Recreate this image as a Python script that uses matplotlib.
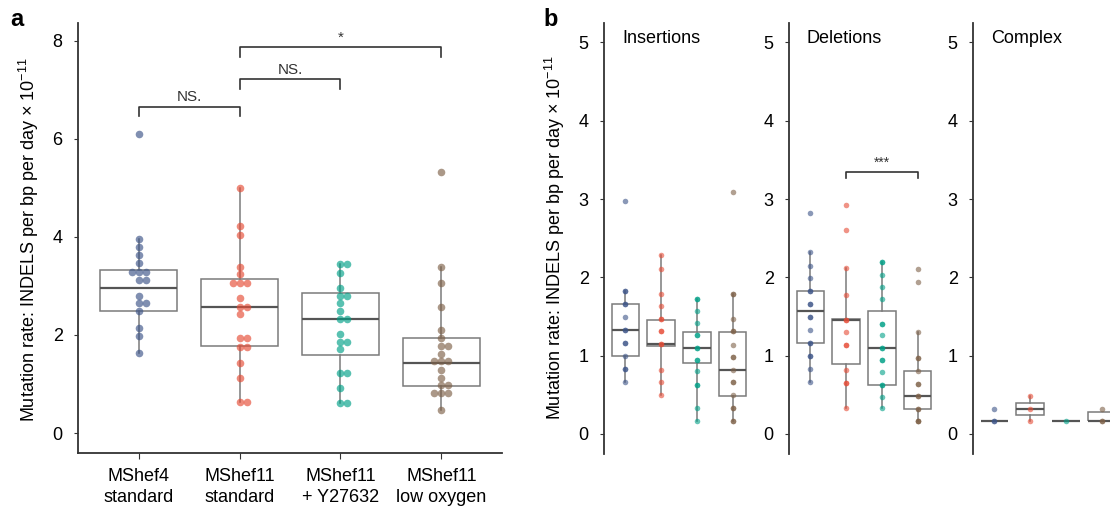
import matplotlib
matplotlib.use("Agg")
import matplotlib.pyplot as plt
import numpy as np

plt.rcParams['font.family'] = ['Liberation Sans', 'DejaVu Sans']

# ---- panel a data (mutation rate, INDELS per bp per day x 1e-11) ----
groups_a = ["MShef4\nstandard", "MShef11\nstandard", "MShef11\n+ Y27632", "MShef11\nlow oxygen"]
mshef4_std = [6.10, 3.95, 3.79, 3.63, 3.46, 3.29, 3.29, 3.29, 3.12, 3.12, 2.80, 2.65, 2.65, 2.48, 2.14, 1.97, 1.64]
mshef11_std = [5.01, 4.22, 4.04, 3.39, 3.24, 3.07, 3.07, 3.07, 2.75, 2.58, 2.58, 2.42, 1.93, 1.93, 1.76, 1.76, 1.43, 1.12, 0.63, 0.63]
mshef11_y27 = [3.44, 3.44, 3.27, 2.95, 2.80, 2.80, 2.65, 2.50, 2.33, 2.33, 2.02, 1.86, 1.86, 1.71, 1.23, 1.23, 0.91, 0.61, 0.61]
mshef11_low = [5.33, 3.39, 3.07, 2.58, 2.10, 1.93, 1.78, 1.78, 1.61, 1.46, 1.46, 1.46, 1.29, 1.12, 0.97, 0.97, 0.81, 0.81, 0.81, 0.46]

# box stats: q1, median, q3, whisker low, whisker high
box_a_q1 = [2.48, 1.78, 1.59, 0.96]
box_a_med = [2.95, 2.58, 2.33, 1.43]
box_a_q3 = [3.33, 3.14, 2.85, 1.93]
box_a_lo = [1.64, 0.63, 0.61, 0.46]
box_a_hi = [3.95, 5.01, 3.44, 3.39]

# significance brackets (group i, group j, height, label)
sig_a = [(0, 1, 6.66, "NS."), (1, 2, 7.22, "NS."), (1, 3, 7.88, "*")]

# ---- panel b data ----
panel_titles = ["Insertions", "Deletions", "Complex"]
ins_blue = [2.98, 1.82, 1.82, 1.66, 1.66, 1.49, 1.33, 1.33, 1.16, 1.16, 1.00, 0.83, 0.83, 0.67]
ins_red = [2.28, 2.11, 1.79, 1.63, 1.47, 1.47, 1.31, 1.31, 1.15, 1.15, 0.82, 0.66, 0.50]
ins_teal = [1.72, 1.72, 1.57, 1.42, 1.26, 1.26, 1.10, 1.10, 0.95, 0.95, 0.80, 0.63, 0.63, 0.33, 0.17]
ins_brown = [3.09, 1.79, 1.79, 1.47, 1.31, 1.31, 1.14, 0.98, 0.98, 0.82, 0.66, 0.66, 0.50, 0.33, 0.33, 0.17, 0.17]
del_blue = [2.82, 2.32, 2.15, 1.99, 1.82, 1.82, 1.66, 1.66, 1.50, 1.50, 1.33, 1.16, 1.16, 1.00, 1.00, 0.83, 0.67]
del_red = [2.92, 2.60, 2.12, 1.78, 1.46, 1.46, 1.30, 1.14, 1.14, 0.82, 0.65, 0.65, 0.33]
del_teal = [2.20, 2.20, 2.03, 1.88, 1.72, 1.41, 1.41, 1.26, 1.10, 1.10, 0.94, 0.94, 0.79, 0.63, 0.63, 0.47, 0.33]
del_brown = [2.11, 1.94, 1.30, 0.97, 0.97, 0.81, 0.64, 0.64, 0.48, 0.48, 0.32, 0.32, 0.16, 0.16, 0.16]
cx_blue = [0.32, 0.16, 0.16]
cx_red = [0.49, 0.32, 0.16]
cx_teal = [0.16]
cx_brown = [0.32, 0.16, 0.16]

ins_q1 = [1.00, 1.13, 0.91, 0.49]
ins_med = [1.33, 1.15, 1.10, 0.82]
ins_q3 = [1.66, 1.46, 1.30, 1.30]
ins_lo = [0.67, 0.50, 0.17, 0.17]
ins_hi = [1.82, 2.28, 1.72, 1.79]
del_q1 = [1.16, 0.90, 0.63, 0.32]
del_med = [1.57, 1.46, 1.10, 0.49]
del_q3 = [1.82, 1.47, 1.57, 0.81]
del_lo = [0.67, 0.33, 0.33, 0.16]
del_hi = [2.32, 2.12, 2.20, 1.30]
cx_q1 = [0.16, 0.24, 0.16, 0.16]
cx_med = [0.16, 0.32, 0.16, 0.16]
cx_q3 = [0.16, 0.40, 0.16, 0.28]
cx_lo = [0.16, 0.16, 0.16, 0.16]
cx_hi = [0.16, 0.49, 0.16, 0.28]

sig_b = (1, 3, 3.35, "***")

colors = ["#3C5488", "#E64B35", "#00A087", "#7E6148"]
axis_col = "#333333"
box_col = "#7a7a7a"
med_col = "#555555"
ylab = "Mutation rate: INDELS per bp per day \u00d7 10$^{\\mathregular{-11}}$"

W, H = 1110, 508
fig = plt.figure(figsize=(W / 100, H / 100), dpi=100)


def px_axes(left, right, top, bottom):
    return fig.add_axes([left / W, 1 - bottom / H, (right - left) / W, (bottom - top) / H])


def draw_boxes(ax, q1, med, q3, lo, hi, width):
    stats = []
    for i in range(len(q1)):
        stats.append(dict(q1=q1[i], med=med[i], q3=q3[i], whislo=lo[i], whishi=hi[i], fliers=[]))
    ax.bxp(stats, positions=range(len(q1)), widths=width, showcaps=False, showfliers=False,
           patch_artist=True,
           boxprops=dict(facecolor="none", edgecolor=box_col, linewidth=1.1),
           whiskerprops=dict(color=box_col, linewidth=1.1),
           medianprops=dict(color=med_col, linewidth=1.6), zorder=1)


def swarm(ax, x0, vals, diam):
    # simple beeswarm in pixel space
    p0 = ax.transData.transform((0, 0))
    p1 = ax.transData.transform((1, 1))
    sx, sy = p1[0] - p0[0], p1[1] - p0[1]
    placed = []
    xs = []
    for v in vals:
        y = v * sy
        k = 0
        while True:
            step = 0.5 * ((k + 1) // 2) * (1 if k % 2 else -1)
            x = step
            if all((x - px) ** 2 + (y - py) ** 2 >= diam ** 2 for px, py in placed):
                break
            k += 1
        placed.append((x, y))
        xs.append(x0 + x / sx)
    return xs


def bracket(ax, i, j, h, drop, label, fs, gap):
    ax.plot([i, i, j, j], [h - drop, h, h, h - drop], color=axis_col, lw=1.2, zorder=3)
    ax.text((i + j) / 2, h + gap, label, ha="center", va="bottom", fontsize=fs, color=axis_col)


# ---------------- panel a ----------------
ax = px_axes(78, 502, 23, 453)
ax.set_xlim(-0.6, 3.6)
ax.set_ylim(-20 / 49, 410 / 49)
draw_boxes(ax, box_a_q1, box_a_med, box_a_q3, box_a_lo, box_a_hi, 0.76)
for i, vals in enumerate([mshef4_std, mshef11_std, mshef11_y27, mshef11_low]):
    xs = swarm(ax, i, vals, 7.0)
    ax.scatter(xs, vals, s=30, color=colors[i], alpha=0.65, linewidths=0, zorder=2)
for i, j, h, lab in sig_a:
    bracket(ax, i, j, h, 0.2, lab, 11, 0.05)
ax.set_xticks(range(4))
ax.set_xticklabels(groups_a, fontsize=13, linespacing=1.25)
ax.set_yticks([0, 2, 4, 6, 8])
ax.tick_params(axis="y", labelsize=13, length=3, pad=8, color=axis_col)
ax.tick_params(axis="x", length=4, pad=7, color=axis_col)
for s in ["top", "right"]:
    ax.spines[s].set_visible(False)
for s in ["left", "bottom"]:
    ax.spines[s].set_color(axis_col)
    ax.spines[s].set_linewidth(1.3)
fig.text(29 / W, 1 - 240 / H, ylab, rotation=90, ha="center", va="center", fontsize=13)
fig.text(10 / W, 1 - 20 / H, "a", fontsize=17, fontweight="bold", ha="left", va="center")

# ---------------- panel b ----------------
b_sets = [
    ([ins_blue, ins_red, ins_teal, ins_brown], (ins_q1, ins_med, ins_q3, ins_lo, ins_hi)),
    ([del_blue, del_red, del_teal, del_brown], (del_q1, del_med, del_q3, del_lo, del_hi)),
    ([cx_blue, cx_red, cx_teal, cx_brown], (cx_q1, cx_med, cx_q3, cx_lo, cx_hi)),
]
lefts = [604, 789, 973]
for k, (series, st) in enumerate(b_sets):
    bx = px_axes(lefts[k], lefts[k] + 150, 23, 454)
    bx.set_xlim(-0.6, 3.6)
    bx.set_ylim(-20 / 78.3, 411 / 78.3)
    draw_boxes(bx, *st, 0.77)
    for i, vals in enumerate(series):
        bx.scatter([i] * len(vals), vals, s=16, color=colors[i], alpha=0.6, linewidths=0, zorder=2)
    bx.set_xticks([])
    bx.set_yticks([0, 1, 2, 3, 4, 5])
    bx.tick_params(axis="y", labelsize=13, length=3, pad=8, color=axis_col)
    for s in ["top", "right", "bottom"]:
        bx.spines[s].set_visible(False)
    bx.spines["left"].set_color(axis_col)
    bx.spines["left"].set_linewidth(1.3)
    bx.text(0.12, 0.965, panel_titles[k], transform=bx.transAxes, fontsize=13,
            ha="left", va="center")
    if k == 1:
        i, j, h, lab = sig_b
        bracket(bx, i, j, h, 0.08, lab, 10, 0.03)
    bx.patch.set_visible(False)

fig.text(555 / W, 1 - 238 / H, ylab, rotation=90, ha="center", va="center", fontsize=13)
fig.text(543 / W, 1 - 20 / H, "b", fontsize=17, fontweight="bold", ha="left", va="center")

fig.savefig("out.png", dpi=100)
